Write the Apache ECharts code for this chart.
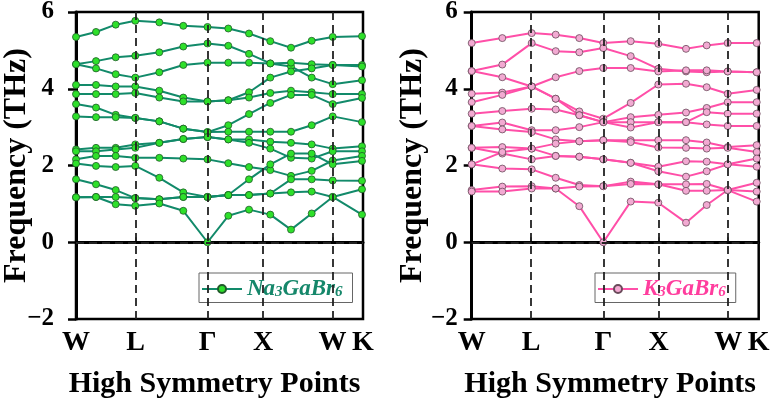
<!DOCTYPE html>
<html>
<head>
<meta charset="utf-8">
<script src="https://cdn.jsdelivr.net/npm/echarts@6/dist/echarts.min.js"></script>
<style>
html,body{margin:0;padding:0;background:#fff;}
#chart{width:779px;height:400px;}
</style>
</head>
<body>
<div id="chart"></div>
<script>
// High-symmetry points (shared x scale, path coordinate)
const symPos = [0, 59.5, 131.6, 187, 256.5, 287];
const symLabels = ['W', 'L', 'Γ', 'X', 'W', 'K'];
const yMin = -2, yMax = 6, yStep = 2;

// Na3GaBr6 sample positions along the path
const xNa = [0, 20, 39.7, 59.3, 83.3, 107.3, 131.5, 152.3, 173, 194.3, 215, 235.7, 256.7, 286];
const na01 = [5.35, 5.48, 5.67, 5.77, 5.73, 5.64, 5.61, 5.57, 5.44, 5.24, 5.07, 5.25, 5.35, 5.37];
const na02 = [4.64, 4.72, 4.82, 4.86, 4.95, 5.10, 5.18, 5.12, 4.91, 4.66, 4.58, 4.29, 4.12, 4.22];
const na03 = [4.64, 4.53, 4.38, 4.29, 4.43, 4.62, 4.68, 4.68, 4.68, 4.66, 4.68, 4.64, 4.62, 4.62];
const na04 = [4.10, 4.10, 4.06, 4.06, 3.95, 3.77, 3.67, 3.70, 3.91, 4.29, 4.45, 4.53, 4.62, 4.58];
const na05 = [3.86, 3.86, 3.86, 3.89, 3.77, 3.67, 3.67, 3.70, 3.77, 3.89, 3.95, 3.91, 3.86, 3.86];
const na06 = [3.60, 3.51, 3.32, 3.24, 3.15, 2.96, 2.87, 3.05, 3.34, 3.63, 3.84, 3.84, 3.60, 3.76];
const na07 = [3.28, 3.26, 3.26, 3.24, 3.15, 2.96, 2.87, 2.88, 2.88, 2.88, 2.88, 3.05, 3.28, 3.13];
const na08 = [2.42, 2.46, 2.46, 2.55, 2.59, 2.69, 2.74, 2.68, 2.68, 2.62, 2.59, 2.55, 2.44, 2.50];
const na09 = [2.37, 2.37, 2.42, 2.46, 2.59, 2.69, 2.74, 2.68, 2.59, 2.44, 2.20, 2.18, 2.37, 2.37];
const na10 = [2.16, 2.25, 2.25, 2.20, 2.20, 2.18, 2.16, 2.06, 1.96, 1.88, 1.73, 1.86, 2.13, 2.25];
const na11 = [2.05, 1.99, 1.96, 1.99, 1.68, 1.30, 1.18, 1.23, 1.64, 2.03, 2.31, 2.31, 2.03, 2.12];
const na12 = [1.64, 1.51, 1.36, 1.15, 1.12, 1.18, 1.18, 1.23, 1.23, 1.27, 1.30, 1.32, 1.18, 1.38];
const na13 = [1.17, 1.18, 1.18, 1.15, 1.12, 1.18, 1.18, 1.23, 1.23, 1.27, 1.64, 1.64, 1.61, 1.60];
const na14 = [1.17, 1.18, 0.99, 0.95, 1.01, 0.82, 0.00, 0.69, 0.85, 0.72, 0.33, 0.75, 1.18, 0.72];

// K3GaBr6 sample positions along the path
const xK = [0, 30.6, 60, 84, 107.6, 131.6, 159, 186.6, 214.3, 235, 256, 285];
const k01 = [5.19, 5.32, 5.45, 5.41, 5.32, 5.19, 5.24, 5.17, 5.04, 5.13, 5.19, 5.19];
const k02 = [4.46, 4.63, 5.19, 4.98, 4.95, 5.06, 4.85, 4.52, 4.45, 4.43, 4.45, 4.43];
const k03 = [4.46, 4.30, 4.06, 3.74, 3.41, 3.22, 3.63, 4.11, 4.13, 4.04, 3.87, 3.97];
const k04 = [3.87, 3.90, 4.06, 4.30, 4.46, 4.54, 4.54, 4.45, 4.48, 4.48, 4.45, 4.43];
const k05 = [3.65, 3.84, 4.06, 3.74, 3.31, 3.13, 3.26, 3.32, 3.38, 3.50, 3.65, 3.65];
const k06 = [3.35, 3.42, 3.48, 3.46, 3.31, 3.13, 3.13, 3.13, 3.13, 3.39, 3.35, 3.35];
const k07 = [3.03, 3.12, 2.92, 2.92, 3.00, 3.13, 2.99, 3.13, 3.13, 3.07, 3.03, 3.03];
const k08 = [3.03, 2.94, 2.87, 2.68, 2.63, 2.66, 2.66, 2.66, 2.66, 2.60, 2.48, 2.53];
const k09 = [2.46, 2.48, 2.44, 2.57, 2.63, 2.66, 2.61, 2.47, 2.46, 2.44, 2.46, 2.35];
const k10 = [2.46, 2.31, 2.16, 2.25, 2.23, 2.16, 2.07, 1.97, 2.11, 2.10, 2.03, 2.18];
const k11 = [2.03, 2.35, 2.44, 2.25, 2.23, 2.16, 2.07, 1.85, 1.71, 1.85, 2.03, 1.97];
const k12 = [2.03, 1.92, 1.90, 1.68, 1.49, 1.46, 1.58, 1.51, 1.51, 1.52, 1.36, 1.55];
const k13 = [1.36, 1.45, 1.46, 1.40, 1.45, 1.46, 1.52, 1.51, 1.34, 1.34, 1.36, 1.32];
const k14 = [1.32, 1.32, 1.40, 1.40, 0.94, 0.00, 1.06, 1.03, 0.51, 0.97, 1.36, 1.06];

const naBands = [na01, na02, na03, na04, na05, na06, na07, na08, na09, na10, na11, na12, na13, na14];
const kBands = [k01, k02, k03, k04, k05, k06, k07, k08, k09, k10, k11, k12, k13, k14];

const NA_NAME = 'Na3GaBr6';
const K_NAME = 'K3GaBr6';
const FONT = '"Liberation Serif", "DejaVu Serif", serif';

const chart = echarts.init(document.getElementById('chart'), null, {renderer: 'canvas'});

function makeGrid(left) {
  return {left: left, top: 12, width: 287, height: 307, show: true, borderColor: '#000', borderWidth: 2.5,
    backgroundColor: 'transparent', containLabel: false, outerBoundsMode: 'none'};
}
function makeX(idx) {
  return {
    type: 'value', gridIndex: idx, min: symPos[0], max: symPos[symPos.length - 1],
    splitLine: {show: false},
    axisLine: {lineStyle: {color: '#000', width: 3}},
    axisTick: {show: true, inside: true, length: 5, customValues: symPos.slice(1, -1), lineStyle: {color: '#000', width: 1.5}},
    axisLabel: {
      customValues: symPos, margin: 10,
      formatter: function (v) { const i = symPos.indexOf(v); return i >= 0 ? symLabels[i] : ''; },
      fontFamily: FONT, fontWeight: 'bold', fontSize: 28, color: '#000'
    },
    name: 'High Symmetry Points', nameLocation: 'middle', nameGap: 50,
    nameTextStyle: {fontFamily: FONT, fontWeight: 'bold', fontSize: 30, color: '#000', padding: [0, 10, 0, 0]}
  };
}
function makeY(idx, labelMargin) {
  return {
    type: 'value', gridIndex: idx, min: yMin, max: yMax, interval: yStep,
    splitLine: {show: false},
    axisLine: {show: true, lineStyle: {color: '#000', width: 3}},
    axisTick: {show: true, inside: false, length: 8, lineStyle: {color: '#000', width: 2.5}},
    axisLabel: {
      margin: labelMargin, fontFamily: FONT, fontWeight: 'bold', fontSize: 25, color: '#000',
      formatter: function (v) { return v < 0 ? '\u2212' + Math.abs(v) : String(v); }
    },
    name: 'Frequency (THz)', nameLocation: 'middle', nameGap: 43, nameMoveOverlap: false,
    nameTextStyle: {fontFamily: FONT, fontWeight: 'bold', fontSize: 32, color: '#000'}
  };
}

const dashStyle = {type: [8, 5], color: '#222', width: 1.8};
function guideLines() {
  const d = symPos.slice(1, -1).map(function (p) { return {xAxis: p}; });
  d.push({yAxis: 0});
  return {silent: true, symbol: 'none', label: {show: false}, lineStyle: dashStyle, data: d, animation: false};
}

function bandSeries(bands, xs, idx, name, lineColor, fill, border) {
  return bands.map(function (b, bi) {
    const s = {
      type: 'line', name: name, xAxisIndex: idx, yAxisIndex: idx,
      data: xs.map(function (x, i) { return [x, b[i]]; }),
      symbol: 'circle', symbolSize: 7, showSymbol: true,
      lineStyle: {color: lineColor, width: 2},
      itemStyle: {color: fill, borderColor: border, borderWidth: 0.8},
      emphasis: {disabled: true}, animation: false, z: 3
    };
    if (bi === 0) s.markLine = guideLines();
    return s;
  });
}

function legendFor(name, left, color, subFormat) {
  return {
    data: [name], left: left, top: 273, orient: 'horizontal',
    backgroundColor: '#fff', borderColor: '#666', borderWidth: 1, borderRadius: 0,
    padding: [2, 10, 2, 2], itemWidth: 40, itemHeight: 10, itemGap: 6,
    formatter: function () { return subFormat; },
    textStyle: {
      fontFamily: FONT, fontWeight: 'bold', fontStyle: 'italic', fontSize: 23, color: color,
      rich: {
        m: {fontFamily: FONT, fontWeight: 'bold', fontStyle: 'italic', fontSize: 23, color: color, lineHeight: 22},
        s: {fontFamily: FONT, fontWeight: 'bold', fontStyle: 'italic', fontSize: 15, color: color, lineHeight: 22, verticalAlign: 'bottom', padding: [10, 0, 0, 0]}
      }
    }
  };
}

const option = {
  backgroundColor: '#fff',
  animation: false,
  grid: [makeGrid(76), makeGrid(471.7)],
  xAxis: [makeX(0), makeX(1)],
  yAxis: [makeY(0, 22), makeY(1, 14)],
  legend: [
    legendFor(NA_NAME, 199, '#15876a', '{m|Na}{s|3}{m|GaBr}{s|6}'),
    legendFor(K_NAME, 595, '#ff3d9e', '{m|K}{s|3}{m|GaBr}{s|6}')
  ],
  series: [].concat(
    bandSeries(naBands, xNa, 0, NA_NAME, '#128a6a', '#2ee02a', '#1f5a2a'),
    bandSeries(kBands, xK, 1, K_NAME, '#ff4fa8', '#f2aad2', '#6a4a5a')
  )
};
chart.setOption(option);
</script>
</body>
</html>
